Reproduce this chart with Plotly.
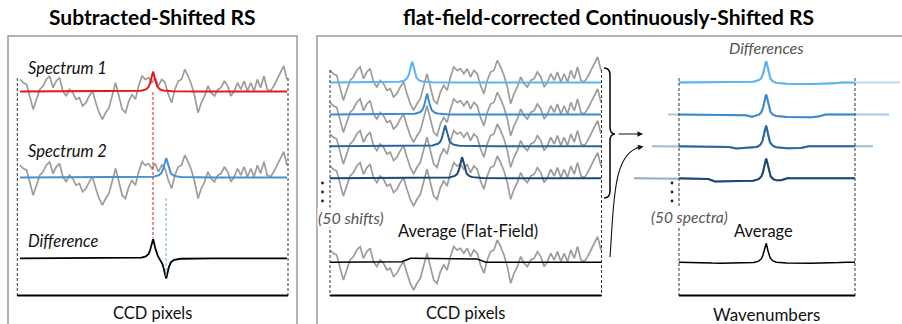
import numpy as np
import plotly.graph_objects as go

# ---------------- data ----------------
# fixed-pattern CCD background (px above the baseline, evenly spaced across the detector)
GRAY_PATTERN = [12.3, 9, 7.3, -4.3, -17.7, -7.7, 2.3, 5.7, 12.3, 15.7, 4, 10.7, 14, 0.7,
                -4.3, 2.3, -1, -7.7, -6, -14.3, -11, -4.3, 0.7, -11, -21, -27.7, -21, -16,
                -4.3, 9, -4.3, -17.7, -21, -9.3, -2.7, -7.7, 5.7, 15.7, 12.3, 14, 9, 14,
                5.7, 12.3, 9, -2.7, -11, 2.3, 10.7, 12.3, 22.3, 15.7, 7.3, -4.3, -21, -11,
                -4.3, 5.7, -1, -4.3, 2.3, 4, 10.7, 5.7, -4.3, 0.7, 9, 2.3, 10.7, 0.7, 9,
                0.7, 12.3, 4, 15.7, 2.3, 0.7, 5.7, 12.3, 19, 25.7, 12.3]
# Raman band profile (distance from centre in px -> relative height)
PEAK_DX = [0, 0.5, 1, 1.5, 2, 3, 4, 5, 6, 8, 10, 14, 18, 24, 35]
PEAK_SHAPE = [1, 0.96, 0.86, 0.74, 0.61, 0.41, 0.28, 0.2, 0.15, 0.09, 0.06, 0.03, 0.02, 0.01, 0.005]

SPEC_PEAK_POS = [153, 166]                 # Spectrum 1, Spectrum 2 band centre
SPEC_PEAK_H = [20, 19.5]
SHIFT_PEAK_POS = [412, 427, 445, 462]      # continuously shifted spectra
SHIFT_PEAK_H = [21, 21, 21, 21]
DIFF_PEAK_H = [23, 23, 23, 23]
DIFF_DIP_START = [762, 747, 730, 710]      # negative flat-field residue in differences
DIFF_DIP_DEPTH = [1.5, 2.7, 2.3, 3.3]
FLAT_BUMP = [405, 480, 4]                  # start, end, height of averaged band in flat-field
AVG_PEAK_H = 20

SHIFT_COLORS = ["#5cb4ef", "#3d8bcd", "#2b669c", "#1e4872"]

# ---------------- helpers ----------------
frac = np.linspace(0, 1, len(GRAY_PATTERN))
gp = np.array(GRAY_PATTERN)


def peak(x, c):
    return np.interp(np.abs(x - c), PEAK_DX, PEAK_SHAPE)


def plateau(x, a, b, ramp=4):
    return np.interp(x, [a - ramp, a - ramp / 2, a, a + ramp / 2, a + ramp,
                         b - ramp, b - ramp / 2, b, b + ramp / 2, b + ramp],
                     [0, 0.15, 0.5, 0.85, 1, 1, 0.85, 0.5, 0.15, 0])


fig = go.Figure()


def line(x, y, color, width=1.5, opacity=1.0, dash=None):
    fig.add_trace(go.Scatter(x=x, y=y, mode="lines", opacity=opacity,
                             line=dict(color=color, width=width, dash=dash),
                             hoverinfo="skip", showlegend=False))


def gray(x0, x1, base):
    line(x0 + frac * (x1 - x0), base - gp, "#9c9c9c", 1.7)


# ---------------- left panel ----------------
L0, L1 = 20, 287
for base in [91.7, 177.5]:
    gray(L0, L1, base)
xx = np.linspace(L0, L1, 900)
line(xx, 91.7 - SPEC_PEAK_H[0] * peak(xx, SPEC_PEAK_POS[0]), "#e8161d", 2)
line(xx, 177.5 - SPEC_PEAK_H[1] * peak(xx, SPEC_PEAK_POS[1]), "#4a8fd0", 2)
line(xx, 258.3 - SPEC_PEAK_H[0] * peak(xx, SPEC_PEAK_POS[0]) + 21 * peak(xx, SPEC_PEAK_POS[1]),
     "#000000", 1.8)
line([SPEC_PEAK_POS[0]] * 2, [92, 238], "#e8161d", 1, dash="3px,2px")
line([SPEC_PEAK_POS[1]] * 2, [198, 278], "#6aa6d8", 1, dash="3px,2px")

# ---------------- middle panel ----------------
M0, M1 = 330, 601
MB = [82.7, 114.7, 146.3, 178.3]
for base in MB:
    gray(M0, M1, base)
gray(M0, M1, 262.3)
xm = np.linspace(M0, M1, 900)
for i, base in enumerate(MB):
    line(xm, base - SHIFT_PEAK_H[i] * peak(xm, SHIFT_PEAK_POS[i]), SHIFT_COLORS[i], 2)
line(xm, 262.3 - FLAT_BUMP[2] * plateau(xm, FLAT_BUMP[0], FLAT_BUMP[1], 6), "#000000", 1.5)

# ---------------- right panel ----------------
R0, R1, RC = 679, 855, 766
DIFF_START = [679, 668, 652, 634]
for i, base in enumerate(MB):
    x0 = DIFF_START[i]
    x1 = x0 + 221
    xr = np.linspace(x0, x1, 900)
    yr = base - DIFF_PEAK_H[i] * peak(xr, RC) + DIFF_DIP_DEPTH[i] * plateau(xr, DIFF_DIP_START[i], DIFF_DIP_START[i] + 73, 5)
    line(xr, yr, SHIFT_COLORS[i], 2, opacity=0.45)
    m = (xr >= R0) & (xr <= R1)
    line(xr[m], yr[m], SHIFT_COLORS[i], 2)
xa = np.linspace(R0, R1, 700)
line(xa, 262.3 - AVG_PEAK_H * peak(xa, RC) + 1.0 * plateau(xa, 710, 837, 6), "#000000", 1.5)

# vertical ellipsis dots
for xd in [322.5, 672]:
    fig.add_trace(go.Scatter(x=[xd] * 3, y=[183, 192, 201], mode="markers",
                             marker=dict(color="#222", size=2.8), hoverinfo="skip", showlegend=False))

# ---------------- shapes ----------------
shapes = []
shapes.append(dict(type="rect", x0=8, x1=297, y0=36, y1=340, line=dict(color="#9a9a9a", width=1.5)))
shapes.append(dict(type="rect", x0=317, x1=940, y0=36, y1=340, line=dict(color="#9a9a9a", width=1.5)))
for xv, y0 in [(17.3, 78), (288, 78), (330, 70), (601.5, 70), (679, 78), (855, 78)]:
    shapes.append(dict(type="line", x0=xv, x1=xv, y0=y0, y1=296,
                       line=dict(color="#333", width=1, dash="3px,2px")))
for a, b in [(17.3, 288), (330, 601.5), (679, 855)]:
    shapes.append(dict(type="line", x0=a, x1=b, y0=295.5, y1=295.5, line=dict(color="#000", width=2.2)))
# curly brace
shapes.append(dict(type="path",
                   path="M 604 68 Q 610 68 610 75 L 610 127 Q 610 134 615 134 Q 610 134 610 141 L 610 191 Q 610 198 604 198",
                   line=dict(color="#111", width=1.6)))
# curved arrow
shapes.append(dict(type="path", path="M 610 257 C 614 205, 612 152, 641 147",
                   line=dict(color="#111", width=1.1)))
for s in shapes:
    s.update(xref="x", yref="y", layer="above")

# ---------------- annotations ----------------
ann = []
FONT = "Lato"


def text(x, y, t, size=15, color="#111", italic=False, bold=False, xanchor="center", bg=None):
    a = dict(x=x, y=y, xref="x", yref="y", text=t, showarrow=False, xanchor=xanchor,
             yanchor="middle",
             font=dict(family=FONT, size=size, color=color,
                       style="italic" if italic else "normal",
                       weight="bold" if bold else "normal"))
    if bg:
        a.update(bgcolor=bg, borderpad=0)
    ann.append(a)


text(152.5, 16, "Subtracted-Shifted RS", 21, "#000", bold=True)
text(608.5, 16, "flat-field-corrected Continuously-Shifted RS", 21, "#000", bold=True)
text(26, 68, "Spectrum 1", 16.5, italic=True, xanchor="left")
text(26, 151, "Spectrum 2", 16.5, italic=True, xanchor="left")
text(26, 241, "Difference", 16.5, italic=True, xanchor="left")
text(152, 313, "CCD pixels", 16.5)
text(317, 217, "(50 shifts)", 16, "#555", italic=True, xanchor="left", bg="white")
text(467.5, 231, "Average (Flat-Field)", 16.5)
text(465, 313, "CCD pixels", 16.5)
text(766.5, 47, "Differences", 16, "#555", italic=True)
text(650, 217, "(50 spectra)", 15.5, "#555", italic=True, xanchor="left", bg="white")
text(763, 231, "Average", 16.5)
text(766, 314, "Wavenumbers", 17)

ann.append(dict(x=643, y=134, ax=617, ay=134, xref="x", yref="y", axref="x", ayref="y",
                text="", showarrow=True, arrowhead=2, arrowsize=1, arrowwidth=1.1, arrowcolor="#111"))
ann.append(dict(x=643.5, y=146.5, ax=635, ay=148, xref="x", yref="y", axref="x", ayref="y",
                text="", showarrow=True, arrowhead=2, arrowsize=1, arrowwidth=1.1, arrowcolor="#111"))

fig.update_layout(
    width=902, height=324, margin=dict(l=0, r=0, t=0, b=0),
    paper_bgcolor="white", plot_bgcolor="white",
    xaxis=dict(range=[0, 902], visible=False, fixedrange=True),
    yaxis=dict(range=[324, 0], visible=False, fixedrange=True),
    shapes=shapes, annotations=ann,
)
fig.write_html("out.html")
